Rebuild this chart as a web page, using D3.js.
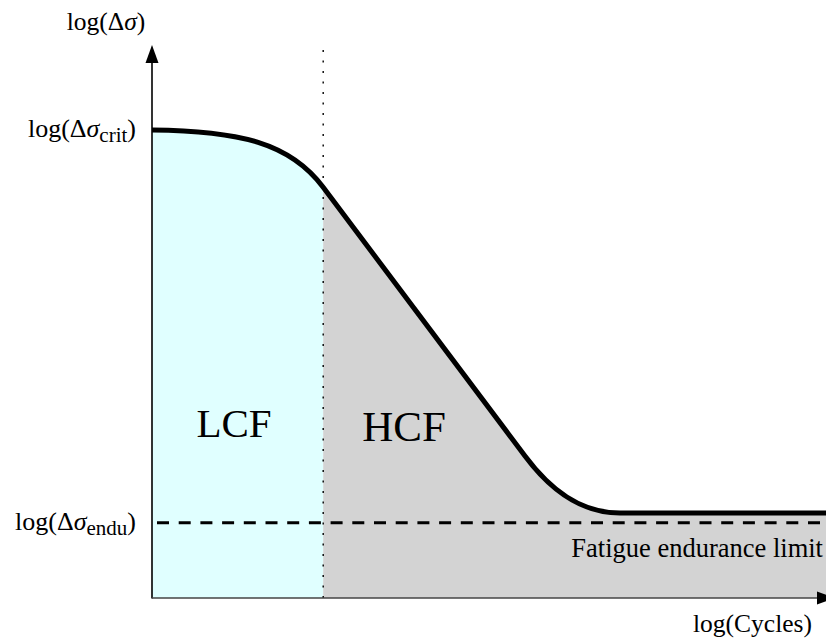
<!DOCTYPE html>
<html>
<head>
<meta charset="utf-8">
<script src="https://cdn.jsdelivr.net/npm/d3@7"></script>
<style>
  html, body { margin: 0; padding: 0; background: #fff; }
  svg { display: block; }
  text { font-family: "Liberation Serif", "DejaVu Serif", serif; fill: #000; }
</style>
</head>
<body>
<svg id="chart" width="826" height="642"></svg>
<script>
// ---- data (abstract log units) ----
// S-N curve nodes: start point, cubic (2 control pts + end), line end, cubic, line end
const curveX = [0, 1.306, 2.047, 2.537, 5.534, 5.905, 6.350, 6.944, 10];
const curveY = [8.463, 8.445, 8.228, 7.432, 2.568, 1.962, 1.537, 1.537, 1.537];
const curveSegments = ["cubic", "line", "cubic", "line"];
const splitX = 2.54;          // LCF / HCF boundary
const critLevel = 8.463;      // log(Δσ_crit)
const enduLevel = 1.36;       // log(Δσ_endu)
const regionLabels = ["LCF", "HCF"];
const yTickLabels = [
  { sub: "crit", value: critLevel },
  { sub: "endu", value: enduLevel }
];
const xAxisTitle = "log(Cycles)";
const limitLabel = "Fatigue endurance limit";

// ---- scales ----
const svg = d3.select("#chart");
const x = d3.scaleLinear().domain([0, 10]).range([152, 826]);
const y = d3.scaleLinear().domain([0, 10]).range([598, 45]);

const P = curveX.map((v, i) => [x(v), y(curveY[i])]);

function buildCurve(p, closeToAxis) {
  const path = d3.path();
  path.moveTo(p[0][0], p[0][1]);
  let k = 1;
  curveSegments.forEach(s => {
    if (s === "cubic") {
      path.bezierCurveTo(p[k][0], p[k][1], p[k + 1][0], p[k + 1][1], p[k + 2][0], p[k + 2][1]);
      k += 3;
    } else {
      path.lineTo(p[k][0], p[k][1]);
      k += 1;
    }
  });
  if (closeToAxis) {
    path.lineTo(x(10), y(0));
    path.lineTo(x(0), y(0));
    path.closePath();
  }
  return path.toString();
}

// clip paths for the two regions
const defs = svg.append("defs");
defs.append("clipPath").attr("id", "clipL").append("rect")
  .attr("x", x(0)).attr("y", 0).attr("width", x(splitX) - x(0)).attr("height", 642);
defs.append("clipPath").attr("id", "clipR").append("rect")
  .attr("x", x(splitX)).attr("y", 0).attr("width", 826 - x(splitX)).attr("height", 642);

svg.append("path").attr("d", buildCurve(P, true))
  .attr("fill", "#e0ffff").attr("clip-path", "url(#clipL)");
svg.append("path").attr("d", buildCurve(P, true))
  .attr("fill", "#d3d3d3").attr("clip-path", "url(#clipR)");

// vertical dotted separator
svg.append("line")
  .attr("x1", x(splitX)).attr("x2", x(splitX))
  .attr("y1", y(0)).attr("y2", 50)
  .attr("stroke", "#000").attr("stroke-width", 1.4)
  .attr("stroke-dasharray", "2,8.5");

// dashed endurance line
svg.append("line")
  .attr("x1", x(0) + 5).attr("x2", 826)
  .attr("y1", y(enduLevel)).attr("y2", y(enduLevel))
  .attr("stroke", "#000").attr("stroke-width", 3)
  .attr("stroke-dasharray", "12,9.7");

// S-N curve
svg.append("path").attr("d", buildCurve(P, false))
  .attr("fill", "none").attr("stroke", "#000").attr("stroke-width", 5)
  .attr("stroke-linejoin", "round");

// axes
svg.append("line")
  .attr("x1", x(0)).attr("x2", x(0)).attr("y1", y(0) + 0.5).attr("y2", y(10) + 16)
  .attr("stroke", "#000").attr("stroke-width", 1.6);
svg.append("path")
  .attr("d", `M${x(0)},${y(10)} L${x(0) - 6.5},${y(10) + 18} L${x(0) + 6.5},${y(10) + 18} Z`)
  .attr("fill", "#000");
svg.append("line")
  .attr("x1", x(0)).attr("x2", x(10) - 6).attr("y1", y(0)).attr("y2", y(0))
  .attr("stroke", "#444").attr("stroke-width", 1.6);
svg.append("path")
  .attr("d", `M${x(10) + 9},${y(0)} L${x(10) - 9},${y(0) - 6.5} L${x(10) - 9},${y(0) + 6.5} Z`)
  .attr("fill", "#000");

// y axis title: log(Δσ)
const yt = svg.append("text").attr("x", 106).attr("y", 30)
  .attr("text-anchor", "middle").attr("font-size", 25.5);
yt.append("tspan").text("log(Δ");
yt.append("tspan").attr("font-style", "italic").text("σ");
yt.append("tspan").text(")");

// x axis title
svg.append("text").attr("x", 812).attr("y", 632)
  .attr("text-anchor", "end").attr("font-size", 25.5).text(xAxisTitle);

// y tick labels with subscripts
yTickLabels.forEach(t => {
  const tx = svg.append("text")
    .attr("x", 136).attr("y", y(t.value) + 7)
    .attr("text-anchor", "end").attr("font-size", 26);
  tx.append("tspan").text("log(Δ");
  tx.append("tspan").attr("font-style", "italic").text("σ");
  tx.append("tspan").attr("font-size", 21).attr("dy", 5).text(t.sub);
  tx.append("tspan").attr("dy", -5).text(")");
});

// region labels
svg.append("text").attr("x", 234).attr("y", 437)
  .attr("text-anchor", "middle").attr("font-size", 41).text(regionLabels[0]);
svg.append("text").attr("x", 404).attr("y", 441)
  .attr("text-anchor", "middle").attr("font-size", 43).text(regionLabels[1]);

// endurance limit label
svg.append("text").attr("x", 823).attr("y", 557)
  .attr("text-anchor", "end").attr("font-size", 26.5).text(limitLabel);
</script>
</body>
</html>
